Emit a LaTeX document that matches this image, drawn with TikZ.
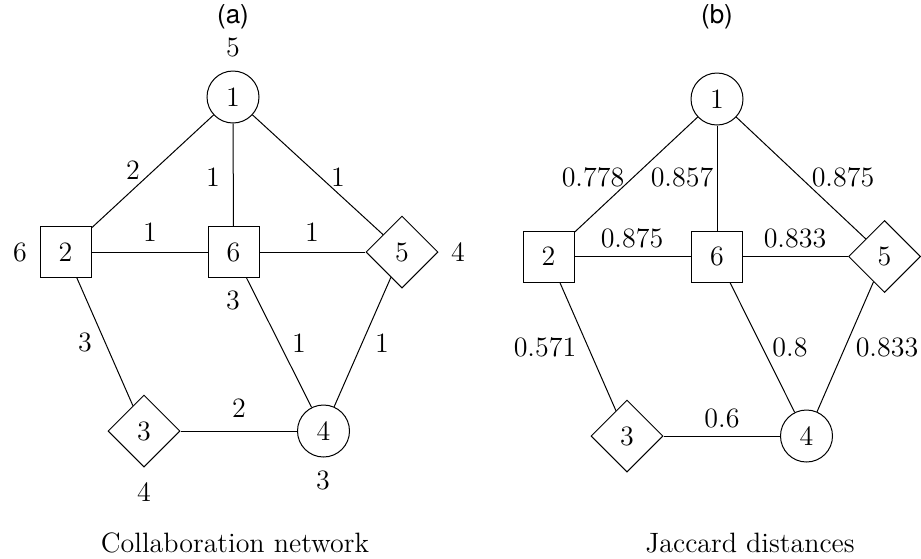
\documentclass[tikz,border=0pt]{standalone}
\usepackage{fontspec}
\newfontfamily\headfont{TeX Gyre Heros}
\usetikzlibrary{shapes.geometric}
\begin{document}
\begin{tikzpicture}[x=0.5pt,y=-0.5pt,
  every node/.style={font=\fontsize{14}{16}\selectfont, inner sep=0pt},
  circ/.style={draw, circle, minimum size=26pt, line width=0.5pt},
  sq/.style={draw, rectangle, minimum size=25.5pt, line width=0.5pt},
  dia/.style={draw, diamond, minimum size=36pt, line width=0.5pt},
  edge/.style={line width=0.5pt},
  head/.style={font=\headfont\fontsize{13}{15}\selectfont}]
\useasboundingbox (0,0) rectangle (921,558);
% panel (a)
\node[head] (ha) at (233,17) {(a)};
\node[circ] (a1) at (233,97) {1};
\node[sq] (a2) at (65.5,252) {2};
\node[sq] (a6) at (233.5,252) {6};
\node[dia] (a5) at (402,252) {5};
\node[dia] (a3) at (144,431) {3};
\node[circ] (a4) at (323.5,431) {4};
\draw[edge] (a1) -- (a2);
\draw[edge] (a1) -- (a6);
\draw[edge] (a1) -- (a5);
\draw[edge] (a2) -- (a6);
\draw[edge] (a6) -- (a5);
\draw[edge] (a2) -- (a3);
\draw[edge] (a6) -- (a4);
\draw[edge] (a5) -- (a4);
\draw[edge] (a3) -- (a4);
% node weights
\node (w1) at (233,47) {5};
\node (w2) at (20,252) {6};
\node (w6) at (233,300) {3};
\node (w5) at (458,252) {4};
\node (w3) at (144,492) {4};
\node (w4) at (323,480) {3};
% edge weights
\node (e12) at (133,170) {2};
\node (e16) at (213,177) {1};
\node (e15) at (338,177) {1};
\node (e26) at (150,232) {1};
\node (e65) at (312,232) {1};
\node (e23) at (85,342) {3};
\node (e64) at (299,343) {1};
\node (e54) at (382,343) {1};
\node (e34) at (239,408) {2};
\node (ca) at (235,543) {Collaboration network};
% panel (b)
\node[head] (hb) at (717,17) {(b)};
\node[circ] (b1) at (717,99) {1};
\node[sq] (b2) at (548.5,256.5) {2};
\node[sq] (b6) at (717,256.5) {6};
\node[dia] (b5) at (884.5,256.5) {5};
\node[dia] (b3) at (627,436) {3};
\node[circ] (b4) at (806.5,436) {4};
\draw[edge] (b1) -- (b2);
\draw[edge] (b1) -- (b6);
\draw[edge] (b1) -- (b5);
\draw[edge] (b2) -- (b6);
\draw[edge] (b6) -- (b5);
\draw[edge] (b2) -- (b3);
\draw[edge] (b6) -- (b4);
\draw[edge] (b5) -- (b4);
\draw[edge] (b3) -- (b4);
\node (f12) at (593,177) {0.778};
\node (f16) at (682,177) {0.857};
\node (f15) at (843,177) {0.875};
\node (f26) at (632,238) {0.875};
\node (f65) at (795,238) {0.833};
\node (f23) at (545,347) {0.571};
\node (f64) at (790,347) {0.8};
\node (f54) at (887,347) {0.833};
\node (f34) at (722,418) {0.6};
\node (cb) at (750,543) {Jaccard distances};
\end{tikzpicture}
\end{document}
